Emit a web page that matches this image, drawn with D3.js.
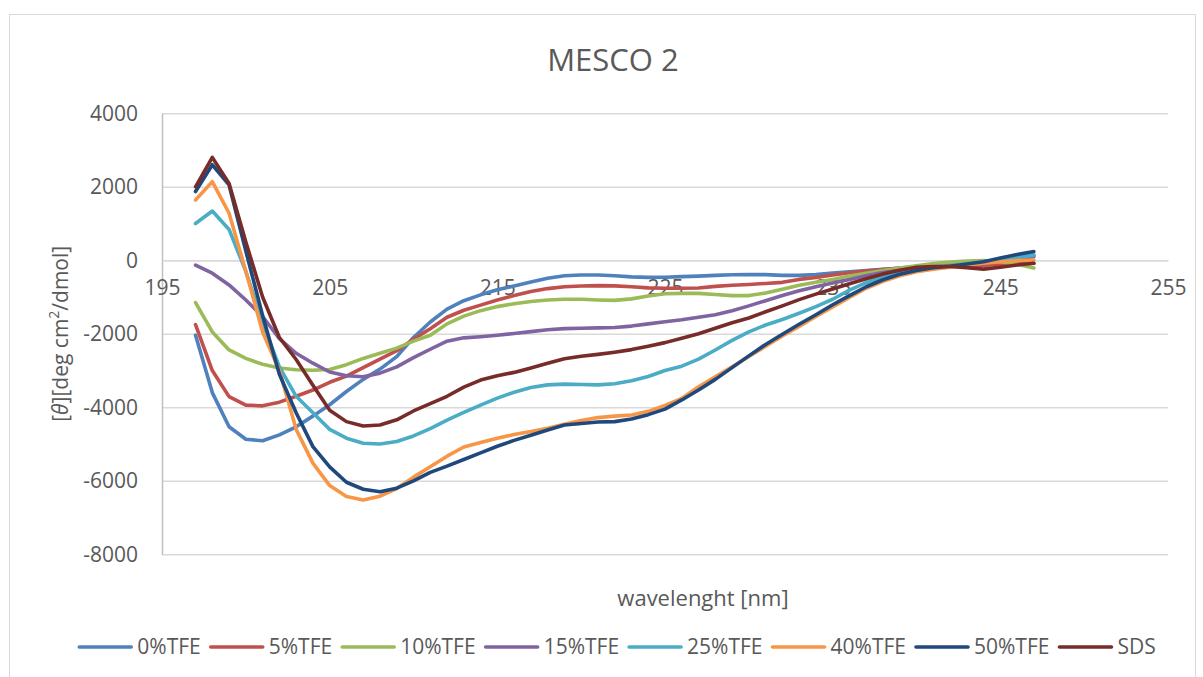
<!DOCTYPE html>
<html>
<head>
<meta charset="utf-8">
<script src="https://cdn.jsdelivr.net/npm/d3@7"></script>
<style>
  html, body { margin: 0; padding: 0; background: #ffffff; }
  svg { display: block; font-family: "Open Sans", "Noto Sans", sans-serif; }
</style>
</head>
<body>
<svg id="chart" width="1203" height="677"></svg>
<script>
// ---------- data ----------
const chartTitle = "MESCO 2";
const xAxisTitle = "wavelenght [nm]";
const xTicks = [195, 205, 215, 225, 235, 245, 255];
const yTicks = [-8000, -6000, -4000, -2000, 0, 2000, 4000];

const wavelengths = [197,198,199,200,201,202,203,204,205,206,207,208,209,210,211,212,213,214,215,216,217,218,219,220,221,222,223,224,225,226,227,228,229,230,231,232,233,234,235,236,237,238,239,240,241,242,243,244,245,246,247];

const seriesNames = ["0%TFE", "5%TFE", "10%TFE", "15%TFE", "25%TFE", "40%TFE", "50%TFE", "SDS"];
const seriesColors = ["#4F81BD", "#C0504D", "#9BBB59", "#8064A2", "#4BACC6", "#F79646", "#1F497D", "#772C2A"];

const tfe0 = [-2040,-3600,-4530,-4870,-4910,-4750,-4530,-4240,-3930,-3570,-3240,-2960,-2620,-2100,-1680,-1330,-1100,-940,-800,-700,-590,-490,-420,-400,-400,-420,-450,-465,-460,-445,-430,-410,-395,-385,-390,-410,-410,-390,-350,-310,-280,-245,-220,-190,-160,-130,-100,-60,20,90,140];
const tfe5 = [-1750,-3000,-3710,-3940,-3960,-3860,-3700,-3530,-3320,-3150,-2920,-2690,-2460,-2150,-1860,-1550,-1360,-1220,-1080,-960,-850,-770,-720,-700,-690,-695,-720,-750,-760,-760,-755,-710,-680,-660,-630,-600,-520,-470,-400,-340,-290,-250,-210,-180,-160,-155,-145,-130,-110,-95,-80];
const tfe10 = [-1150,-1950,-2440,-2670,-2830,-2930,-2980,-2990,-2970,-2840,-2670,-2530,-2390,-2200,-2040,-1730,-1520,-1370,-1260,-1180,-1120,-1080,-1060,-1060,-1080,-1090,-1050,-970,-910,-900,-900,-930,-960,-960,-890,-790,-680,-600,-520,-430,-350,-280,-210,-150,-90,-50,-20,-10,-40,-110,-210];
const tfe15 = [-130,-350,-670,-1080,-1530,-2130,-2530,-2800,-3040,-3140,-3170,-3070,-2900,-2650,-2420,-2200,-2110,-2080,-2040,-1990,-1940,-1890,-1860,-1850,-1840,-1830,-1790,-1730,-1670,-1620,-1550,-1480,-1370,-1240,-1100,-960,-830,-720,-620,-520,-420,-330,-270,-220,-190,-170,-120,-60,0,50,100];
const tfe25 = [1000,1340,840,-300,-1700,-2900,-3700,-4150,-4600,-4840,-4980,-5000,-4930,-4780,-4580,-4350,-4140,-3940,-3750,-3590,-3460,-3390,-3370,-3380,-3390,-3360,-3280,-3160,-3000,-2880,-2690,-2440,-2180,-1950,-1760,-1610,-1440,-1260,-1060,-810,-610,-440,-320,-240,-180,-140,-100,-40,20,80,140];
const tfe40 = [1640,2140,1280,-300,-1950,-3000,-4600,-5520,-6130,-6430,-6520,-6420,-6210,-5900,-5620,-5330,-5080,-4960,-4840,-4740,-4660,-4570,-4460,-4360,-4280,-4240,-4210,-4110,-3950,-3760,-3440,-3170,-2900,-2620,-2340,-2060,-1800,-1530,-1270,-1010,-760,-570,-420,-310,-240,-190,-130,-80,-40,-10,10];
const tfe50 = [1870,2600,2050,250,-1500,-3100,-4150,-5070,-5620,-6040,-6230,-6300,-6200,-6000,-5770,-5600,-5420,-5240,-5060,-4900,-4760,-4620,-4480,-4440,-4400,-4390,-4320,-4200,-4050,-3800,-3530,-3240,-2920,-2600,-2290,-2010,-1740,-1480,-1210,-960,-720,-530,-380,-280,-200,-160,-100,-40,60,160,240];
const sds = [2000,2800,2090,500,-1000,-2100,-2700,-3400,-4080,-4390,-4510,-4480,-4340,-4100,-3900,-3700,-3450,-3260,-3140,-3050,-2930,-2800,-2680,-2610,-2560,-2500,-2430,-2340,-2240,-2120,-2000,-1850,-1700,-1570,-1400,-1240,-1070,-920,-780,-640,-500,-370,-270,-190,-170,-170,-200,-240,-190,-130,-80];

const seriesValues = [tfe0, tfe5, tfe10, tfe15, tfe25, tfe40, tfe50, sds];

// ---------- layout ----------
const svg = d3.select("#chart");
const plot = { left: 162, right: 1168, top: 113.3, bottom: 554.3 };
const textColor = "#595959";
const gridColor = "#d9d9d9";
const plainNumber = d => String(d);

const x = d3.scaleLinear().domain([195, 255]).range([plot.left, plot.right]);
const y = d3.scaleLinear().domain([-8000, 4000]).range([plot.bottom, plot.top]);

// chart border
svg.append("rect")
  .attr("x", 9.5).attr("y", 14.5)
  .attr("width", 1186).attr("height", 700)
  .attr("fill", "#ffffff")
  .attr("stroke", gridColor).attr("stroke-width", 1);

// gridlines
const yGrid = svg.append("g")
  .attr("transform", `translate(${plot.left},0)`)
  .call(d3.axisLeft(y).tickValues(yTicks).tickSize(-(plot.right - plot.left)).tickFormat(""));
yGrid.select(".domain").remove();
yGrid.selectAll(".tick line").attr("stroke", gridColor).attr("stroke-width", 1.5);

// y axis
const yAxis = svg.append("g")
  .attr("transform", `translate(${plot.left},0)`)
  .call(d3.axisLeft(y).tickValues(yTicks).tickSize(0).tickPadding(24).tickFormat(plainNumber));
yAxis.select(".domain").attr("stroke", "#bfbfbf").attr("stroke-width", 1.5);
yAxis.selectAll("text")
  .attr("fill", textColor)
  .style("font-size", "21px")
  .style("font-family", "'Open Sans', sans-serif");

// x axis at y = 0
const xAxis = svg.append("g")
  .attr("transform", `translate(0,${y(0)})`)
  .call(d3.axisBottom(x).tickValues(xTicks).tickSize(0).tickPadding(20).tickFormat(plainNumber));
xAxis.select(".domain").attr("stroke", gridColor).attr("stroke-width", 1.5);
xAxis.selectAll("text")
  .attr("fill", textColor)
  .style("font-size", "21px")
  .style("font-family", "'Open Sans', sans-serif");

// lines
const line = d3.line()
  .x((d, i) => x(wavelengths[i]))
  .y(d => y(d))
  .curve(d3.curveLinear);

svg.append("g").selectAll("path")
  .data(seriesValues)
  .join("path")
  .attr("d", d => line(d))
  .attr("fill", "none")
  .attr("stroke", (d, i) => seriesColors[i])
  .attr("stroke-width", 3.6)
  .attr("stroke-linejoin", "round")
  .attr("stroke-linecap", "round");

// title
svg.append("text")
  .attr("x", 613).attr("y", 71)
  .attr("text-anchor", "middle")
  .attr("fill", textColor)
  .style("font-size", "31px")
  .text(chartTitle);

// x axis title
svg.append("text")
  .attr("x", 703).attr("y", 606)
  .attr("text-anchor", "middle")
  .attr("fill", textColor)
  .style("font-size", "22px")
  .text(xAxisTitle);

// y axis title
const yt = svg.append("text")
  .attr("transform", `translate(68,${(plot.top + plot.bottom) / 2}) rotate(-90)`)
  .attr("text-anchor", "middle")
  .attr("fill", textColor)
  .style("font-size", "21px");
yt.append("tspan").text("[");
yt.append("tspan").attr("font-style", "italic").text("θ");
yt.append("tspan").text("][deg cm");
yt.append("tspan").attr("baseline-shift", "super").style("font-size", "14px").text("2");
yt.append("tspan").text("/dmol]");

// legend
const legend = svg.append("g");
const legendY = 647;
const swatch = 52, swGap = 6, itemGap = 10;
const items = legend.selectAll("g.item")
  .data(seriesNames)
  .join("g").attr("class", "item");
items.append("line")
  .attr("x1", 0).attr("x2", swatch)
  .attr("y1", legendY).attr("y2", legendY)
  .attr("stroke", (d, i) => seriesColors[i])
  .attr("stroke-width", 3.6)
  .attr("stroke-linecap", "round");
items.append("text")
  .attr("x", swatch + swGap).attr("y", legendY)
  .attr("dy", "0.35em")
  .attr("fill", textColor)
  .style("font-size", "21px")
  .text(d => d);
let widths = [];
items.each(function() { widths.push(this.querySelector("text").getComputedTextLength()); });
const total = d3.sum(widths, w => swatch + swGap + w) + itemGap * (widths.length - 1);
let cx = 617.5 - total / 2;
items.each(function(d, i) {
  d3.select(this).attr("transform", `translate(${cx},0)`);
  cx += swatch + swGap + widths[i] + itemGap;
});
</script>
</body>
</html>
